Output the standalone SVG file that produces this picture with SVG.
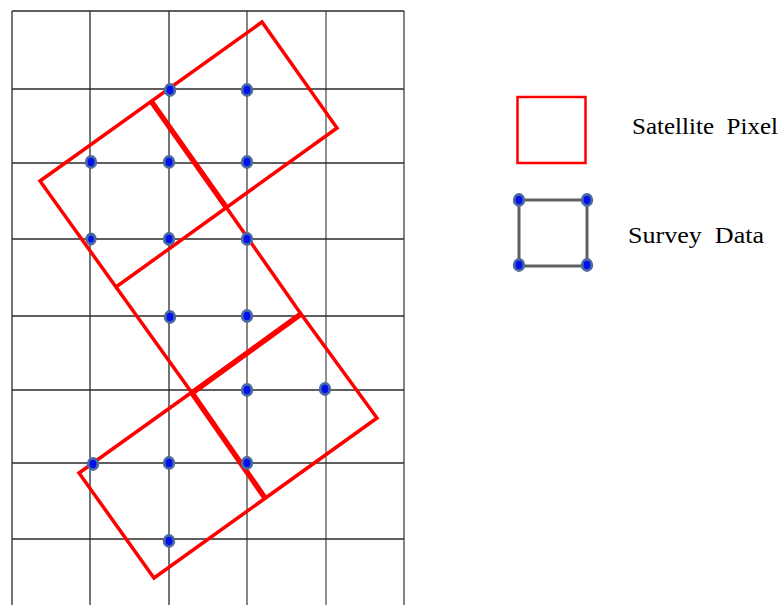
<svg xmlns="http://www.w3.org/2000/svg" width="784" height="605" viewBox="0 0 784 605">
<style>
.grid line{stroke:#2a2a2a;stroke-width:1.3}
.px{fill:none;stroke:#ff0000;stroke-width:3.5;stroke-linejoin:miter}
.thick{stroke:#ff0000;stroke-width:5.5;fill:none}
.dot{fill:#0010ee;stroke:#4a6aa0;stroke-width:2.8}
.lbl{font-family:"Liberation Serif","Times New Roman",serif;font-size:23px;fill:#000}
</style>
<rect width="784" height="605" fill="#fff"/>
<g id="grid" class="grid">
<line x1="12" y1="11" x2="12" y2="605"/>
<line x1="90" y1="11" x2="90" y2="605"/>
<line x1="169" y1="11" x2="169" y2="605"/>
<line x1="247" y1="11" x2="247" y2="605" style="stroke:#444"/>
<line x1="326" y1="11" x2="326" y2="605" style="stroke:#555"/>
<line x1="404" y1="11" x2="404" y2="605" style="stroke:#666;stroke-width:1.6"/>
<line x1="12" y1="11" x2="404" y2="11"/>
<line x1="12" y1="89" x2="404" y2="89"/>
<line x1="12" y1="163" x2="404" y2="163"/>
<line x1="12" y1="239" x2="404" y2="239"/>
<line x1="12" y1="316" x2="404" y2="316"/>
<line x1="12" y1="390" x2="404" y2="390"/>
<line x1="12" y1="463" x2="404" y2="463"/>
<line x1="12" y1="539" x2="404" y2="539"/>
</g>
<g id="pixels">
<polygon class="px" points="40,181 262,22 337,128 116,287"/>
<line class="thick" x1="151" y1="101" x2="226" y2="207"/>
<line class="px" x1="116" y1="287" x2="192" y2="393"/>
<line class="px" x1="226" y1="207" x2="301" y2="314"/>
<polygon class="px" points="79,473 301,314 377,418 154,578"/>
<line class="thick" x1="192" y1="393" x2="301" y2="314"/>
<line class="thick" x1="192" y1="393" x2="265" y2="498"/>
</g>
<g id="survey-points">
<ellipse class="dot" cx="170" cy="90" rx="4.8" ry="5.6"/>
<ellipse class="dot" cx="247" cy="90" rx="4.8" ry="5.6"/>
<ellipse class="dot" cx="91" cy="162" rx="4.8" ry="5.6"/>
<ellipse class="dot" cx="169" cy="162" rx="4.8" ry="5.6"/>
<ellipse class="dot" cx="247" cy="162" rx="4.8" ry="5.6"/>
<ellipse class="dot" cx="91" cy="239" rx="4.2" ry="5"/>
<ellipse class="dot" cx="169" cy="239" rx="4.8" ry="5.6"/>
<ellipse class="dot" cx="247" cy="239" rx="4.8" ry="5.6"/>
<ellipse class="dot" cx="170" cy="317" rx="4.8" ry="5.6"/>
<ellipse class="dot" cx="247" cy="316" rx="4.8" ry="5.6"/>
<ellipse class="dot" cx="247" cy="390" rx="4.8" ry="5.6"/>
<ellipse class="dot" cx="325" cy="389" rx="4.8" ry="5.6"/>
<ellipse class="dot" cx="93" cy="464" rx="4.8" ry="5.6"/>
<ellipse class="dot" cx="169" cy="463" rx="4.8" ry="5.6"/>
<ellipse class="dot" cx="247" cy="463" rx="4.8" ry="5.6"/>
<ellipse class="dot" cx="169" cy="541" rx="4.8" ry="5.6"/>
</g>
<g id="legend-satellite">
<rect x="517.5" y="97" width="68" height="66" fill="none" stroke="#ff0000" stroke-width="2.5"/>
<text class="lbl" x="632" y="134" textLength="146" lengthAdjust="spacingAndGlyphs" xml:space="preserve">Satellite  Pixel</text>
</g>
<g id="legend-survey">
<rect x="519" y="200" width="68" height="66" fill="none" stroke="#606060" stroke-width="3"/>
<ellipse class="dot" cx="519" cy="200" rx="4.8" ry="5.6"/>
<ellipse class="dot" cx="587" cy="200" rx="4.8" ry="5.6"/>
<ellipse class="dot" cx="519" cy="265" rx="4.8" ry="5.6"/>
<ellipse class="dot" cx="587" cy="265" rx="4.8" ry="5.6"/>
<text class="lbl" x="628" y="243" textLength="136" lengthAdjust="spacingAndGlyphs" xml:space="preserve">Survey  Data</text>
</g>
</svg>
